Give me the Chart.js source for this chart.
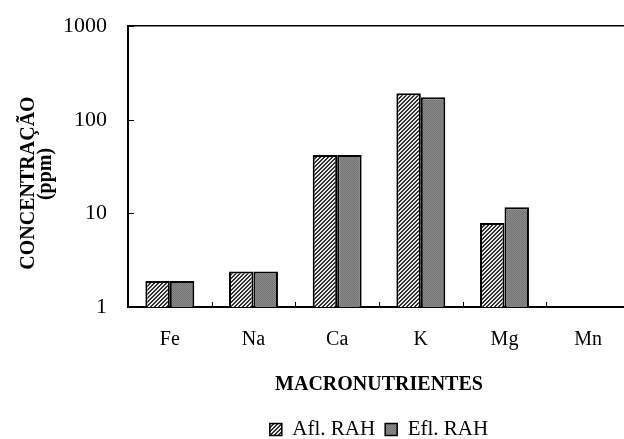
<!DOCTYPE html>
<html>
<head>
<meta charset="utf-8">
<script src="https://cdn.jsdelivr.net/npm/chart.js@4"></script>
<style>
  html, body { margin: 0; padding: 0; background: #fff; overflow: hidden; }
  #wrap { width: 630px; height: 460px; position: relative; margin-top: -8px; }
</style>
</head>
<body>
<div id="wrap"><canvas id="graph"></canvas></div>
<script>
// data
var categories = ['Fe', 'Na', 'Ca', 'K', 'Mg', 'Mn'];
var aflRah = [1.9, 2.4, 42, 192, 7.9, null];
var eflRah = [1.9, 2.4, 42, 174, 11.6, null];
var yTicks = [1, 10, 100, 1000];
var yTitle = ['CONCENTRAÇÃO', '(ppm)'];
var xTitle = 'MACRONUTRIENTES';
var seriesNames = ['Afl. RAH', 'Efl. RAH'];

var serif = "'Liberation Serif', 'Times New Roman', serif";

// hatch fill for Afl, grey speckle for Efl
function makePattern(kind) {
    var c = document.createElement('canvas');
    c.width = 4; c.height = 4;
    var ctx = c.getContext('2d');
    if (kind === 'hatch') {
        ctx.fillStyle = '#e6e6e6';
        ctx.fillRect(0, 0, 4, 4);
        ctx.fillStyle = '#333';
        for (var y = 0; y < 4; y++) {
            for (var x = 0; x < 4; x++) {
                var d = (x + y) % 4;
                if (d === 0 || d === 1) ctx.fillRect(x, y, 1, 1);
            }
        }
    } else {
        ctx.fillStyle = '#8a8a8a';
        ctx.fillRect(0, 0, 4, 4);
        ctx.fillStyle = '#747474';
        for (var y2 = 0; y2 < 4; y2++) {
            for (var x2 = 0; x2 < 4; x2++) {
                if ((x2 + y2) % 2 === 0) ctx.fillRect(x2, y2, 1, 1);
            }
        }
    }
    return document.createElement('canvas').getContext('2d').createPattern(c, 'repeat');
}

var hatch = makePattern('hatch');
var speckle = makePattern('speckle');

// rotated two-line y title, placed beside the axis (canvas sits 8px higher)
var yTitlePlugin = {
    id: 'yTitlePlugin',
    afterDraw: function(chart) {
        var ctx = chart.ctx;
        var spots = [[29, 191], [46, 182]];
        yTitle.forEach(function(line, i) {
            ctx.save();
            ctx.fillStyle = '#000';
            ctx.font = 'bold 20px ' + serif;
            ctx.textAlign = 'center';
            ctx.textBaseline = 'middle';
            ctx.translate(spots[i][0], spots[i][1]);
            ctx.rotate(-Math.PI / 2);
            ctx.fillText(line, 0, 0);
            ctx.restore();
        });
    }
};

// small tick marks pointing into the plot, like the original
var innerTicks = {
    id: 'innerTicks',
    afterDatasetsDraw: function(chart) {
        var ctx = chart.ctx;
        var xs = chart.scales.x, ys = chart.scales.y;
        var area = chart.chartArea;
        ctx.save();
        ctx.strokeStyle = '#000';
        ctx.lineWidth = 1;
        ctx.beginPath();
        yTicks.forEach(function(v) {
            var py = Math.round(ys.getPixelForValue(v)) + 0.5;
            ctx.moveTo(area.left, py);
            ctx.lineTo(area.left + 6, py);
        });
        for (var i = 0; i < categories.length - 1; i++) {
            var px = Math.round((xs.getPixelForTick(i) + xs.getPixelForTick(i + 1)) / 2) + 0.5;
            ctx.moveTo(px, area.bottom);
            ctx.lineTo(px, area.bottom - 5);
        }
        ctx.stroke();
        ctx.restore();
    }
};

new Chart(document.getElementById('graph'), {
    type: 'bar',
    data: {
        labels: categories,
        datasets: [{
            label: seriesNames[0],
            data: aflRah,
            backgroundColor: hatch,
            borderColor: '#000',
            borderWidth: 2,
            borderSkipped: 'bottom',
            barPercentage: 1.0,
            categoryPercentage: 0.585
        }, {
            label: seriesNames[1],
            data: eflRah,
            backgroundColor: speckle,
            borderColor: '#000',
            borderWidth: 2,
            borderSkipped: 'bottom',
            barPercentage: 1.0,
            categoryPercentage: 0.585
        }]
    },
    options: {
        responsive: true,
        maintainAspectRatio: false,
        animation: false,
        layout: {
            padding: { left: 42, top: 1, right: 0, bottom: 2 }
        },
        scales: {
            y: {
                type: 'logarithmic',
                min: 1,
                max: 1000,
                afterBuildTicks: function(scale) {
                    scale.ticks = yTicks.map(function(v) { return { value: v }; });
                },
                ticks: {
                    color: '#000',
                    padding: 21,
                    font: { family: serif, size: 22 },
                    callback: function(v) { return String(v); }
                },
                grid: {
                    drawOnChartArea: true,
                    drawTicks: false,
                    color: function(ctx) {
                        return ctx.tick && ctx.tick.value === 1000 ? '#000' : 'rgba(0,0,0,0)';
                    },
                    lineWidth: 1.5
                },
                border: { display: true, color: '#000', width: 2 }
            },
            x: {
                ticks: {
                    color: '#000',
                    padding: 21,
                    font: { family: serif, size: 20 }
                },
                grid: {
                    offset: true,
                    display: false,
                    drawTicks: false
                },
                border: { display: true, color: '#000', width: 2 },
                title: {
                    display: true,
                    text: xTitle,
                    color: '#000',
                    font: { family: serif, size: 20, weight: 'bold' },
                    padding: { top: 0, bottom: 12 }
                }
            }
        },
        plugins: {
            legend: {
                position: 'bottom',
                fullSize: false,
                labels: {
                    color: '#000',
                    boxWidth: 12,
                    boxHeight: 12,
                    padding: 10,
                    font: { family: serif, size: 21 },
                    generateLabels: function(chart) {
                        return chart.data.datasets.map(function(ds, i) {
                            return {
                                text: ds.label,
                                fillStyle: ds.backgroundColor,
                                strokeStyle: '#000',
                                lineWidth: 1.5,
                                datasetIndex: i
                            };
                        });
                    }
                }
            },
            tooltip: { enabled: false }
        }
    },
    plugins: [yTitlePlugin, innerTicks]
});
</script>
</body>
</html>
